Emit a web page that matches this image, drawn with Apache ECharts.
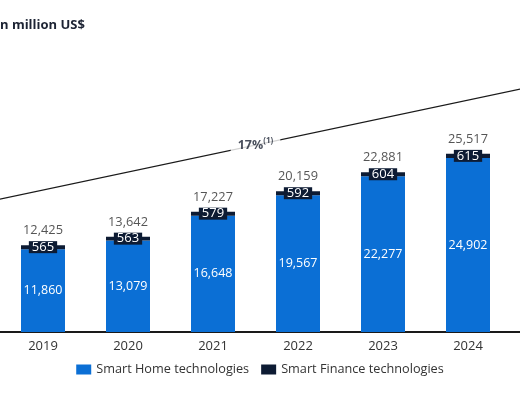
<!DOCTYPE html>
<html>
<head>
<meta charset="utf-8">
<script src="https://cdn.jsdelivr.net/npm/echarts@6/dist/echarts.min.js"></script>
<style>
html,body{margin:0;padding:0;background:#fff;}
#c{width:520px;height:400px;}
</style>
</head>
<body>
<div id="c"></div>
<script>
// Categories (blank ends are the cropped neighbouring slots)
var categories = [' ', '2019', '2020', '2021', '2022', '2023', '2024', '  '];
var smartHome = [null, 11860, 13079, 16648, 19567, 22277, 24902, null];
var smartFinance = [null, 565, 563, 579, 592, 604, 615, null];
var totals = [null, 12425, 13642, 17227, 20159, 22881, 25517, null];
var seriesNames = ['Smart Home technologies', 'Smart Finance technologies'];
var cagrLabel = '17%';
var cagrNote = '(1)';
var cagrStart = 17750;
var cagrEnd = 35770;
var unitText = 'in million US$';

var blue = '#0b6fd5';
var navy = '#0d1b33';
var fmt = function (v) { return Number(v).toLocaleString('en-US'); };

var chart = echarts.init(document.getElementById('c'));
chart.setOption({
  backgroundColor: '#ffffff',
  animation: false,
  textStyle: { fontFamily: 'Open Sans' },
  graphic: [{
    type: 'text', left: -4, top: 19,
    style: { text: unitText, font: 'bold 13px "Open Sans"', fill: '#1c2333' }
  }],
  legend: {
    data: seriesNames,
    top: 358, left: 'center',
    icon: 'rect', itemWidth: 15, itemHeight: 10, itemGap: 12,
    textStyle: { fontSize: 12.7, color: '#333', fontFamily: 'Open Sans' }
  },
  grid: { left: -84.5, right: -75.5, top: 17.6, bottom: 68, containLabel: false, outerBoundsMode: 'none' },
  xAxis: [{
    type: 'category', data: categories,
    axisLine: { lineStyle: { color: '#1a1a1a', width: 2 } },
    axisTick: { show: false },
    axisLabel: { color: '#333', fontSize: 13, margin: 8 }
  }, {
    type: 'value', min: -0.5, max: 7.5, show: false
  }],
  yAxis: { type: 'value', min: 0, max: 45000, show: false, splitLine: { show: false } },
  series: [{
    name: seriesNames[0], type: 'bar', stack: 's', data: smartHome, barWidth: 44,
    itemStyle: { color: blue },
    label: { show: true, position: 'inside', color: '#fff', fontSize: 12.5, formatter: function (p) { return fmt(p.value); } }
  }, {
    name: seriesNames[1], type: 'bar', stack: 's', data: smartFinance, barWidth: 44,
    itemStyle: { color: navy },
    label: { show: true, position: 'inside', color: '#fff', fontSize: 13, backgroundColor: navy, padding: [0, 3], lineHeight: 12,
      formatter: function (p) { return fmt(p.value); } }
  }, {
    name: 'total', type: 'scatter', data: totals, symbolSize: 0,
    label: { show: true, position: 'top', distance: 8, color: '#2b2b2b', fontSize: 12.8, formatter: function (p) { return fmt(p.value); } }
  }, {
    name: 'cagr', type: 'line', xAxisIndex: 1, data: [[0, cagrStart], [7, cagrEnd]],
    symbol: 'none', lineStyle: { color: '#1a1a1a', width: 1.3 }, z: 1
  }, {
    name: 'cagrLabel', type: 'scatter', xAxisIndex: 1, data: [[3.5, (cagrStart + cagrEnd) / 2]], symbolSize: 0, z: 5,
    label: { show: true, position: 'inside', backgroundColor: '#fff', padding: [3, 7],
      formatter: '{a|' + cagrLabel + '}{b|' + cagrNote + '}',
      rich: {
        a: { fontSize: 12.5, fontWeight: 'bold', color: '#1c2333', lineHeight: 16 },
        b: { fontSize: 8, fontWeight: 'bold', color: '#1c2333', verticalAlign: 'top', lineHeight: 8 }
      }
    }
  }]
});
</script>
</body>
</html>
